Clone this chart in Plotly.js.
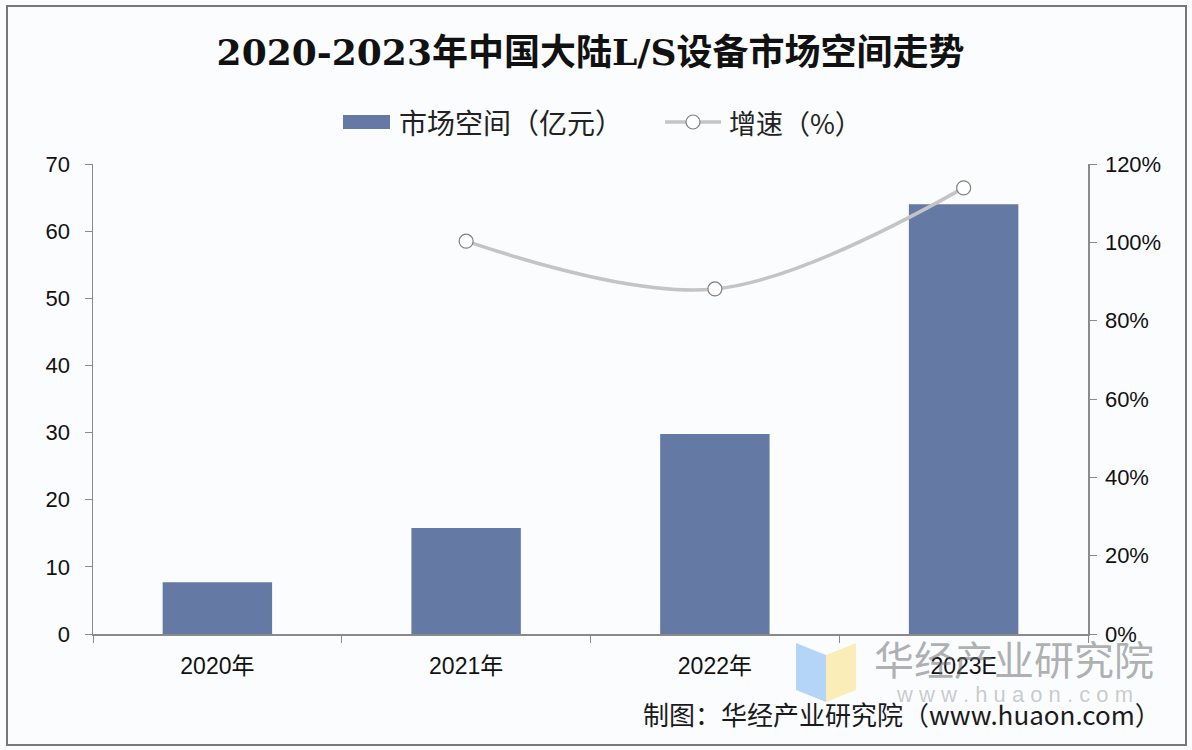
<!DOCTYPE html>
<html>
<head>
<meta charset="utf-8">
<script src="https://cdn.plot.ly/plotly-3.0.1.min.js"></script>
<style>html,body{margin:0;padding:0;background:#fafcfe;}#chart{width:1192px;height:750px;}</style>
</head>
<body>
<div id="chart"></div>
<script>
const categories = ["2020年", "2021年", "2022年", "2023E"];
const marketSize = [7.7, 15.8, 29.8, 64.0];
const growthRate = [null, 100.3, 88.1, 113.9];
const leftTicks = [0, 10, 20, 30, 40, 50, 60, 70];
const rightTicks = [0, 20, 40, 60, 80, 100, 120];
const rightTickLabels = ["0%", "20%", "40%", "60%", "80%", "100%", "120%"];
const seriesNames = ["市场空间（亿元）", "增速（%）"];
const titleText = "2020-2023年中国大陆L/S设备市场空间走势";
const sourceText = "制图：华经产业研究院（www.huaon.com）";

const W = 1192, H = 750;
const ML = 93, MR = 104, MT = 164, MB = 116;
const pw = W - ML - MR, ph = H - MT - MB;
const toPX = x => (x - ML) / pw;
const toPY = y => (H - MB - y) / ph;
const baseFont = "Liberation Sans, Arial, Noto Sans CJK SC, sans-serif";
const cjkFont = "Noto Sans CJK SC, sans-serif";
const barColor = "#6479a3";
const lineColor = "#c4c4c4";

const traces = [
  {
    type: "bar", name: seriesNames[0], x: categories, y: marketSize,
    marker: {color: barColor}, width: 0.44, yaxis: "y", showlegend: false
  },
  {
    type: "scatter", mode: "lines+markers", name: seriesNames[1], x: categories, y: growthRate,
    yaxis: "y2", line: {color: lineColor, width: 3.5, shape: "spline", smoothing: 1},
    marker: {symbol: "circle", size: 14, color: "#ffffff", line: {color: "#7f7f7f", width: 1.2}},
    connectgaps: false, showlegend: false
  }
];

const layout = {
  width: W, height: H,
  paper_bgcolor: "#fafcfe", plot_bgcolor: "#fafcfe",
  margin: {l: ML, r: MR, t: MT, b: MB},
  font: {family: baseFont, color: "#111111", size: 22},
  title: {
    text: titleText, x: 0.5, xanchor: "center", xref: "paper", y: 1 - 52 / H, yref: "container", yanchor: "middle",
    font: {family: "DejaVu Serif, Noto Serif, Noto Sans CJK SC, serif", size: 36, color: "#111111", weight: "bold"}
  },
  showlegend: false,
  xaxis: {
    type: "category", showline: true, linecolor: "#8a8a8a", linewidth: 1.5,
    ticks: "outside", tickson: "boundaries", ticklen: 7, tickcolor: "#8a8a8a",
    showgrid: false, zeroline: false, tickfont: {size: 23, color: "#111111"}, ticklabelstandoff: 11
  },
  yaxis: {
    range: [0, 70], tickvals: leftTicks, showline: true, linecolor: "#8a8a8a", linewidth: 1.5,
    ticks: "outside", ticklen: 7, tickcolor: "#8a8a8a", showgrid: false, zeroline: false,
    tickfont: {size: 22, color: "#111111"}, ticklabelstandoff: 10
  },
  yaxis2: {
    range: [0, 120], tickvals: rightTicks, ticktext: rightTickLabels, overlaying: "y", side: "right",
    showline: true, linecolor: "#8a8a8a", linewidth: 1.5, ticks: "outside", ticklen: 7, tickcolor: "#8a8a8a",
    showgrid: false, zeroline: false, tickfont: {size: 22, color: "#111111"}, ticklabelstandoff: 4
  },
  shapes: [
    {type: "rect", xref: "paper", yref: "paper", layer: "below",
     x0: toPX(7), x1: toPX(1186), y0: toPY(745), y1: toPY(6),
     line: {color: "#777777", width: 2}, fillcolor: "rgba(0,0,0,0)"},
    {type: "rect", xref: "paper", yref: "paper", x0: toPX(343), x1: toPX(390), y0: toPY(129), y1: toPY(115),
     fillcolor: barColor, line: {width: 0}},
    {type: "line", xref: "paper", yref: "paper", x0: toPX(665), x1: toPX(721), y0: toPY(122), y1: toPY(122),
     line: {color: lineColor, width: 3.5}},
    {type: "circle", xref: "paper", yref: "paper", x0: toPX(686), x1: toPX(700), y0: toPY(129), y1: toPY(115),
     fillcolor: "#ffffff", line: {color: "#7f7f7f", width: 1.2}},
    {type: "path", xref: "paper", yref: "paper", layer: "above",
     path: `M ${toPX(796)} ${toPY(643)} L ${toPX(826)} ${toPY(655)} L ${toPX(826)} ${toPY(702)} L ${toPX(796)} ${toPY(690)} Z`,
     fillcolor: "rgba(150,195,245,0.7)", line: {width: 0}},
    {type: "path", xref: "paper", yref: "paper", layer: "above",
     path: `M ${toPX(826)} ${toPY(655)} L ${toPX(856)} ${toPY(643)} L ${toPX(856)} ${toPY(690)} L ${toPX(826)} ${toPY(702)} Z`,
     fillcolor: "rgba(250,232,160,0.75)", line: {width: 0}}
  ],
  annotations: [
    {text: seriesNames[0], xref: "paper", yref: "paper", x: toPX(397), y: toPY(122), xanchor: "left", yanchor: "middle",
     showarrow: false, font: {family: cjkFont, size: 28, color: "#222222"}},
    {text: seriesNames[1], xref: "paper", yref: "paper", x: toPX(727), y: toPY(122), xanchor: "left", yanchor: "middle",
     showarrow: false, font: {family: cjkFont, size: 27, color: "#222222"}},
    {text: "华经产业研究院", xref: "paper", yref: "paper", x: toPX(1014), y: toPY(658), xanchor: "center", yanchor: "middle",
     showarrow: false, font: {family: cjkFont, size: 40, color: "rgba(110,110,110,0.55)"}},
    {text: "w w w . h u a o n . c o m", xref: "paper", yref: "paper", x: toPX(1014), y: toPY(694), xanchor: "center", yanchor: "middle",
     showarrow: false, font: {family: "Liberation Sans, sans-serif", size: 22, color: "rgba(140,140,140,0.45)"}},
    {text: sourceText, xref: "paper", yref: "paper", x: toPX(1163), y: toPY(713), xanchor: "right", yanchor: "middle",
     showarrow: false, font: {family: cjkFont, size: 26, color: "#1a1a1a"}}
  ]
};

Plotly.newPlot("chart", traces, layout, {displayModeBar: false, staticPlot: true});
</script>
</body>
</html>
